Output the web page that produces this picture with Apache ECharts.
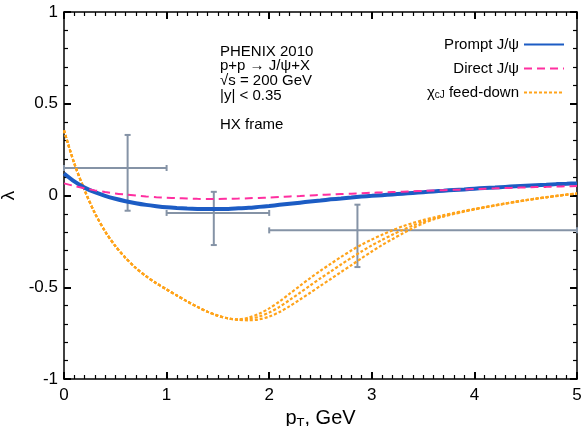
<!DOCTYPE html>
<html><head><meta charset="utf-8">
<script src="https://cdn.jsdelivr.net/npm/echarts@6/dist/echarts.min.js"></script>
<style>html,body{margin:0;padding:0;background:#fff}#c{width:587px;height:426px}</style>
</head><body><div id="c"></div>
<script>
var pT = [0,0.1,0.2,0.3,0.4,0.5,0.6,0.7,0.8,0.9,1.0,1.1,1.2,1.3,1.4,1.5,1.6,1.7,1.8,1.9,2.0,2.1,2.2,2.3,2.4,2.5,2.6,2.7,2.8,2.9,3.0,3.1,3.2,3.3,3.4,3.5,3.6,3.7,3.8,3.9,4.0,4.1,4.2,4.3,4.4,4.5,4.6,4.7,4.8,4.9,5.0];
var promptJpsi = [0.12,0.077,0.043,0.018,-0.002,-0.018,-0.031,-0.042,-0.051,-0.058,-0.064,-0.068,-0.071,-0.073,-0.074,-0.074,-0.073,-0.07,-0.067,-0.062,-0.057,-0.051,-0.045,-0.039,-0.033,-0.027,-0.021,-0.016,-0.011,-0.006,-0.002,0.002,0.006,0.01,0.014,0.018,0.022,0.026,0.03,0.033,0.037,0.041,0.044,0.047,0.05,0.053,0.056,0.059,0.062,0.064,0.066];
var directJpsi = [0.066,0.052,0.039,0.028,0.019,0.011,0.005,0.0,-0.005,-0.009,-0.012,-0.014,-0.016,-0.018,-0.019,-0.019,-0.018,-0.017,-0.015,-0.013,-0.011,-0.008,-0.005,-0.003,0.0,0.003,0.005,0.008,0.01,0.012,0.015,0.017,0.019,0.021,0.023,0.025,0.027,0.029,0.031,0.033,0.035,0.037,0.039,0.041,0.042,0.044,0.046,0.047,0.049,0.05,0.052];
var chiLow = [0.355,0.175,0.03,-0.095,-0.195,-0.275,-0.34,-0.395,-0.44,-0.478,-0.512,-0.545,-0.577,-0.607,-0.634,-0.655,-0.67,-0.678,-0.68,-0.675,-0.66,-0.635,-0.603,-0.567,-0.53,-0.492,-0.455,-0.417,-0.38,-0.342,-0.305,-0.27,-0.238,-0.207,-0.178,-0.152,-0.131,-0.115,-0.101,-0.088,-0.076,-0.065,-0.055,-0.045,-0.035,-0.026,-0.018,-0.01,-0.003,0.004,0.01];
var chiMid = [0.355,0.175,0.03,-0.095,-0.195,-0.275,-0.34,-0.395,-0.44,-0.478,-0.512,-0.545,-0.577,-0.607,-0.634,-0.655,-0.67,-0.677,-0.673,-0.66,-0.638,-0.607,-0.569,-0.53,-0.49,-0.451,-0.414,-0.376,-0.34,-0.305,-0.272,-0.242,-0.214,-0.188,-0.164,-0.143,-0.126,-0.111,-0.098,-0.086,-0.075,-0.064,-0.054,-0.044,-0.035,-0.026,-0.017,-0.01,-0.002,0.005,0.011];
var chiUp = [0.355,0.175,0.03,-0.095,-0.195,-0.275,-0.34,-0.395,-0.44,-0.478,-0.512,-0.545,-0.577,-0.607,-0.634,-0.655,-0.67,-0.675,-0.665,-0.645,-0.615,-0.578,-0.535,-0.492,-0.45,-0.41,-0.372,-0.335,-0.3,-0.268,-0.24,-0.214,-0.19,-0.168,-0.15,-0.134,-0.12,-0.107,-0.095,-0.084,-0.073,-0.063,-0.053,-0.043,-0.034,-0.025,-0.017,-0.009,-0.002,0.005,0.012];
// data points: [x, y, xlo, xhi, ylo, yhi]
var phenixPoints = [[0.62,0.15,0,1,-0.083,0.33],[1.46,-0.095,1,2,-0.27,0.02],[2.86,-0.19,2,5,-0.39,-0.05]];
var xTicks = [0,1,2,3,4,5];
var yTicks = [-1,-0.5,0,0.5,1];

function zip(a){ return pT.map(function(x,i){return [x,a[i]];}); }
var chart = echarts.init(document.getElementById('c'));
var chiName = 'chi';
function xAx(top){
  var a = {type:'value',min:0,max:5,interval:1,
    axisLine:{show:true,onZero:false,lineStyle:{color:'#000',width:1.5}},
    axisTick:{show:true,inside:true,length:7,lineStyle:{color:'#000',width:2}},
    minorTick:{show:true,splitNumber:10,length:4,lineStyle:{color:'#000',width:1.2}},
    splitLine:{show:false}};
  if(top){ a.position='top'; a.axisLabel={show:false}; }
  else {
    a.axisLabel={show:true,margin:8,fontFamily:'Liberation Sans',fontSize:17,color:'#000'};
    a.name='{a|p}{s|T}{a|, GeV}'; a.nameLocation='middle'; a.nameGap=27;
    a.nameTextStyle={rich:{a:{fontFamily:'Liberation Sans',fontSize:20,color:'#000'},s:{fontFamily:'Liberation Sans',fontSize:13,color:'#000',padding:[9,0,0,0]}}};
  }
  return a;
}
function yAx(right){
  var a = {type:'value',min:-1,max:1,interval:0.5,
    axisLine:{show:true,onZero:false,lineStyle:{color:'#000',width:1.5}},
    axisTick:{show:true,inside:true,length:7,lineStyle:{color:'#000',width:2}},
    minorTick:{show:true,splitNumber:5,length:4,lineStyle:{color:'#000',width:1.2}},
    splitLine:{show:false}};
  if(right){ a.position='right'; a.axisLabel={show:false}; }
  else {
    a.axisLabel={show:true,margin:6,fontFamily:'Liberation Sans',fontSize:17,color:'#000'};
    a.name='λ'; a.nameLocation='middle'; a.nameGap=40;
    a.nameTextStyle={fontFamily:'Liberation Sans',fontSize:19,color:'#000'};
  }
  return a;
}
var option = {
  animation:false,
  grid:{left:64,right:10,top:12,bottom:47,containLabel:false,outerBoundsMode:'none'},
  legend:{
    orient:'vertical', right:17, top:32, align:'right', itemWidth:40, itemHeight:14, itemGap:9,
    itemStyle:{opacity:0},
    data:['Prompt J/ψ','Direct J/ψ',chiName],
    textStyle:{fontFamily:'Liberation Sans',fontSize:15,color:'#000',
      rich:{a:{fontFamily:'Liberation Sans',fontSize:15},s:{fontFamily:'Liberation Sans',fontSize:10,padding:[6,0,0,0]}}},
    formatter:function(n){ return n===chiName ? '{a|χ}{s|cJ}{a| feed-down}' : n; }
  },
  xAxis:[xAx(false),xAx(true)],
  yAxis:[yAx(false),yAx(true)],
  graphic:[{type:'text',left:220,top:44,style:{
    text:'PHENIX 2010\np+p → J/ψ+X\n√s = 200 GeV\n|y| < 0.35\n\nHX frame',
    font:'15px "Liberation Sans"',lineHeight:14.7,fill:'#000'}}],
  series:[
    {type:'line',name:chiName,data:zip(chiLow),smooth:0.3,symbol:'none',lineStyle:{color:'#ffa31a',width:2.2,type:[3,2]},itemStyle:{color:'#ffa31a'}},
    {type:'line',name:chiName,data:zip(chiMid),smooth:0.3,symbol:'none',lineStyle:{color:'#ffa31a',width:2.2,type:[3,2]},itemStyle:{color:'#ffa31a'}},
    {type:'line',name:chiName,data:zip(chiUp),smooth:0.3,symbol:'none',lineStyle:{color:'#ffa31a',width:2.2,type:[3,2]},itemStyle:{color:'#ffa31a'}},
    {type:'custom',name:'data',
     renderItem:function(params,api){
       var x=api.value(0),y=api.value(1),xl=api.value(2),xh=api.value(3),yl=api.value(4),yh=api.value(5);
       var c=api.coord([x,y]),pl=api.coord([xl,y]),ph=api.coord([xh,y]),pb=api.coord([x,yl]),pt=api.coord([x,yh]);
       var st={stroke:'#8593a6',lineWidth:2};var cap=3;
       return {type:'group',children:[
         {type:'line',shape:{x1:pl[0],y1:c[1],x2:ph[0],y2:c[1]},style:st},
         {type:'line',shape:{x1:c[0],y1:pb[1],x2:c[0],y2:pt[1]},style:st},
         {type:'line',shape:{x1:pl[0],y1:c[1]-cap,x2:pl[0],y2:c[1]+cap},style:st},
         {type:'line',shape:{x1:ph[0],y1:c[1]-cap,x2:ph[0],y2:c[1]+cap},style:st},
         {type:'line',shape:{x1:c[0]-cap,y1:pb[1],x2:c[0]+cap,y2:pb[1]},style:st},
         {type:'line',shape:{x1:c[0]-cap,y1:pt[1],x2:c[0]+cap,y2:pt[1]},style:st}]};
     },data:phenixPoints},
    {type:'line',name:'Prompt J/ψ',data:zip(promptJpsi),smooth:0.3,symbol:'none',lineStyle:{color:'#1c5cc4',width:4},itemStyle:{color:'#1c5cc4'}},
    {type:'line',name:'Direct J/ψ',data:zip(directJpsi),smooth:0.3,symbol:'none',lineStyle:{color:'#ff2fa0',width:2,type:[8,5]},itemStyle:{color:'#ff2fa0'}}
  ]
};
chart.setOption(option);
</script></body></html>
